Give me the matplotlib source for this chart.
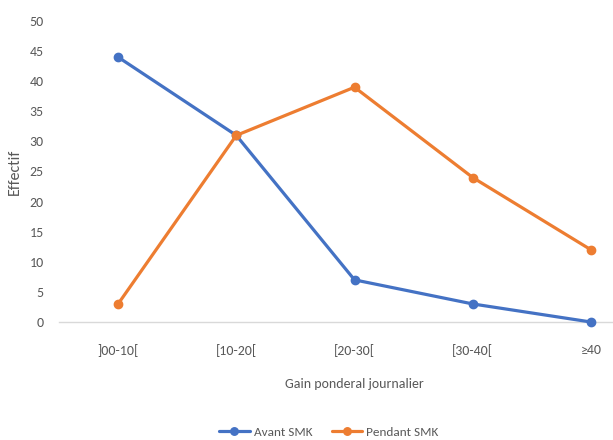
import matplotlib
matplotlib.use("Agg")
import matplotlib.pyplot as plt

categories = [']00-10[', '[10-20[', '[20-30[', '[30-40[', '≥40']
avant = [44, 31, 7, 3, 0]
pendant = [3, 31, 39, 24, 12]
yticks = [0, 5, 10, 15, 20, 25, 30, 35, 40, 45, 50]

plt.rcParams['font.family'] = ['Carlito', 'DejaVu Sans']

grey = '#595959'
blue = '#4472C4'
orange = '#ED7D31'

fig = plt.figure(figsize=(6.13, 4.40), dpi=100)
ax = fig.add_axes([59 / 613, 118 / 440, 591 / 613, 301 / 440])

x = list(range(len(categories)))
ax.plot(x, avant, color=blue, lw=2.3, marker='o', ms=6, label='Avant SMK',
        solid_capstyle='round', clip_on=False, zorder=3)
ax.plot(x, pendant, color=orange, lw=2.3, marker='o', ms=6, label='Pendant SMK',
        solid_capstyle='round', clip_on=False, zorder=3)

ax.set_xlim(-0.5, len(categories) - 0.5)
ax.set_ylim(0, 50)
ax.set_yticks(yticks)
ax.set_xticks(x)
ax.set_xticklabels(categories)

for s in ['top', 'right', 'left']:
    ax.spines[s].set_visible(False)
ax.spines['bottom'].set_color('#D9D9D9')
ax.spines['bottom'].set_linewidth(1.0)
ax.tick_params(axis='both', length=0, colors=grey, labelsize=10)
ax.tick_params(axis='x', pad=16)
ax.tick_params(axis='y', pad=11)

ax.set_ylabel('Effectif', color=grey, fontsize=11.5)
ax.yaxis.set_label_coords((22 - 59) / 591, 0.5)
ax.set_xlabel('Gain ponderal journalier', color=grey, fontsize=10, labelpad=15)

fig.legend(loc='center', bbox_to_anchor=(329 / 613, 1 - 432 / 440), ncol=2,
           frameon=False, fontsize=9.5, labelcolor=grey, handlelength=2.3,
           columnspacing=1.5, handletextpad=0.3, markerscale=0.9)

fig.savefig('out.png', dpi=100)
